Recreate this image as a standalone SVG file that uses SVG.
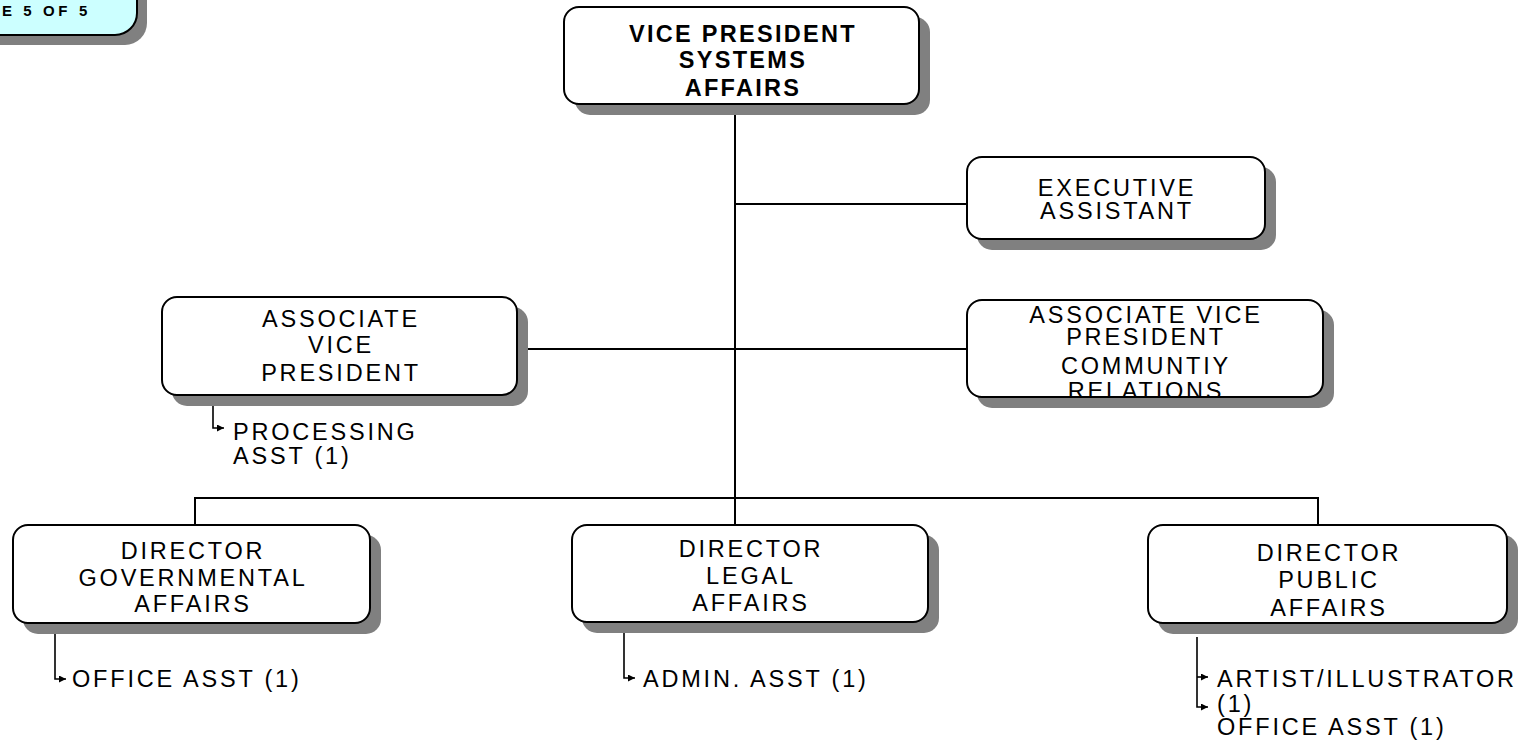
<svg xmlns="http://www.w3.org/2000/svg" width="1526" height="746" viewBox="0 0 1526 746">
<style>
.box{fill:#ffffff;stroke:#000000;stroke-width:2}
.shadow{fill:#808080;stroke:none}
.t{font-family:"Liberation Sans",Arial,sans-serif;font-size:23.5px;letter-spacing:2.8px;fill:#000000;text-anchor:middle}
.tb{font-family:"Liberation Sans",Arial,sans-serif;font-size:23.5px;font-weight:bold;letter-spacing:2.3px;fill:#000000;text-anchor:middle}
.s{font-family:"Liberation Sans",Arial,sans-serif;font-size:23.5px;letter-spacing:2.8px;fill:#000000}
.c{fill:none;stroke:#000000;stroke-width:2}
.sub{fill:none;stroke:#000000;stroke-width:1.6}
</style>
<defs>
<marker id="arr" markerUnits="userSpaceOnUse" markerWidth="8" markerHeight="8" refX="7" refY="3.5" orient="auto">
<path d="M0,0 L7,3.5 L0,7 Z" fill="#000000"/>
</marker>
<clipPath id="clipAvpc"><rect x="967" y="300" width="356" height="97" rx="15"/></clipPath>
</defs>
<rect width="1526" height="746" fill="#ffffff"/>

<g id="page-label">
<rect class="shadow" x="-30" y="-30" width="177" height="75" rx="22"/>
<rect x="-40" y="-40" width="177" height="75" rx="22" fill="#ccffff" stroke="#000000" stroke-width="2"/>
<text x="2" y="16" font-family="Liberation Sans, Arial, sans-serif" font-size="15" font-weight="bold" letter-spacing="3.6">E 5 OF 5</text>
</g>

<g id="connectors">
<path class="c" d="M735,104 V525"/>
<path class="c" d="M735,204 H967"/>
<path class="c" d="M517,349 H967"/>
<path class="c" d="M195,525 V498 H1318 V525"/>
<path class="sub" d="M213,406 V428 H224" marker-end="url(#arr)"/>
<path class="sub" d="M55,632 V679 H66" marker-end="url(#arr)"/>
<path class="sub" d="M624,632 V678 H635" marker-end="url(#arr)"/>
<path class="sub" d="M1197,637 V707 H1208" marker-end="url(#arr)"/>
<path class="sub" d="M1197,677 H1208" marker-end="url(#arr)"/>
</g>

<g id="vp">
<rect class="shadow" x="575" y="17" width="355" height="98" rx="15"/>
<rect class="box" x="564" y="7" width="355" height="97" rx="15"/>
<text class="tb" x="743" y="42">VICE PRESIDENT</text>
<text class="tb" x="743" y="68">SYSTEMS</text>
<text class="tb" x="743" y="96">AFFAIRS</text>
</g>

<g id="exec-assistant">
<rect class="shadow" x="977" y="167" width="299" height="83" rx="15"/>
<rect class="box" x="967" y="157" width="298" height="82" rx="15"/>
<text class="t" x="1117" y="196">EXECUTIVE</text>
<text class="t" x="1117" y="219">ASSISTANT</text>
</g>

<g id="assoc-vp">
<rect class="shadow" x="172" y="307" width="356" height="99" rx="15"/>
<rect class="box" x="162" y="297" width="355" height="98" rx="15"/>
<text class="t" x="341" y="327">ASSOCIATE</text>
<text class="t" x="341" y="353">VICE</text>
<text class="t" x="341" y="381">PRESIDENT</text>
</g>

<g id="assoc-vp-community">
<rect class="shadow" x="977" y="310" width="357" height="98" rx="15"/>
<rect x="967" y="300" width="356" height="97" rx="15" fill="#ffffff"/>
<g clip-path="url(#clipAvpc)">
<text class="t" x="1146" y="323">ASSOCIATE VICE</text>
<text class="t" x="1146" y="345">PRESIDENT</text>
<text class="t" x="1146" y="374">COMMUNTIY</text>
<text class="t" x="1146" y="399">RELATIONS</text>
</g>
<rect x="967" y="300" width="356" height="97" rx="15" fill="none" stroke="#000000" stroke-width="2"/>
</g>

<g id="processing-asst">
<text class="s" x="233" y="440">PROCESSING</text>
<text class="s" x="233" y="464">ASST (1)</text>
</g>

<g id="dir-gov">
<rect class="shadow" x="23" y="535" width="358" height="99" rx="15"/>
<rect class="box" x="13" y="525" width="357" height="98" rx="15"/>
<text class="t" x="193" y="559">DIRECTOR</text>
<text class="t" x="193" y="586">GOVERNMENTAL</text>
<text class="t" x="193" y="612">AFFAIRS</text>
<text class="s" x="72" y="687">OFFICE ASST (1)</text>
</g>

<g id="dir-legal">
<rect class="shadow" x="582" y="535" width="357" height="98" rx="15"/>
<rect class="box" x="572" y="525" width="356" height="97" rx="15"/>
<text class="t" x="751" y="557">DIRECTOR</text>
<text class="t" x="751" y="584">LEGAL</text>
<text class="t" x="751" y="611">AFFAIRS</text>
<text class="s" x="643" y="687">ADMIN. ASST (1)</text>
</g>

<g id="dir-public">
<rect class="shadow" x="1158" y="535" width="360" height="99" rx="15"/>
<rect class="box" x="1148" y="525" width="359" height="98" rx="15"/>
<text class="t" x="1329" y="561">DIRECTOR</text>
<text class="t" x="1329" y="588">PUBLIC</text>
<text class="t" x="1329" y="616">AFFAIRS</text>
<text class="s" x="1217" y="687">ARTIST/ILLUSTRATOR</text>
<text class="s" x="1217" y="712">(1)</text>
<text class="s" x="1217" y="735">OFFICE ASST (1)</text>
</g>
</svg>
